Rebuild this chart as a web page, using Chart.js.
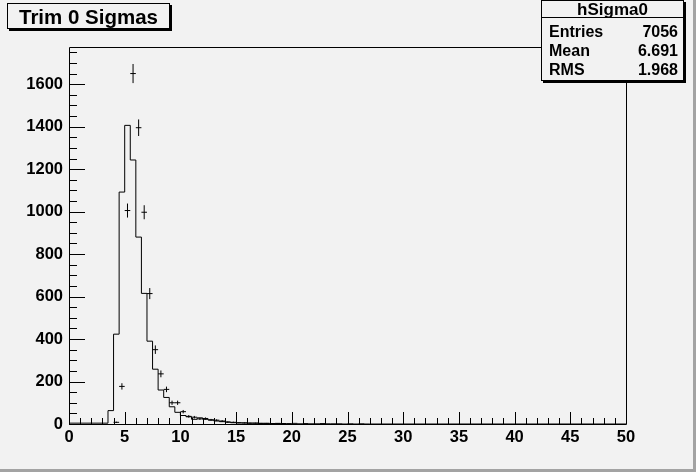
<!DOCTYPE html>
<html>
<head>
<meta charset="utf-8">
<script src="https://cdn.jsdelivr.net/npm/chart.js@4/dist/chart.umd.min.js"></script>
<style>
  html,body{margin:0;padding:0;background:#f2f2f2;}
  #wrap{position:relative;width:696px;height:472px;background:#f2f2f2;overflow:hidden;}
  #c{position:absolute;left:0;top:0;}
  .edgeR{position:absolute;right:0;top:0;width:3px;height:472px;background:#a3a3a3;}
  .edgeB{position:absolute;left:0;bottom:0;width:696px;height:3px;background:#a3a3a3;}
  .title{position:absolute;left:7px;top:3px;width:161px;height:24px;border:1px solid #000;background:#f2f2f2;
    box-shadow:2px 2px 0 #000;font:bold 20.5px "Liberation Sans",Arial,sans-serif;line-height:25px;text-align:center;color:#000;}
  .stats{position:absolute;left:541px;top:0px;width:141px;height:79px;border:1px solid #000;background:#f2f2f2;
    box-shadow:2px 2px 0 #000;font:bold 16px "Liberation Sans",Arial,sans-serif;color:#000;}
  .stats .hd{height:16px;line-height:18px;text-align:center;border-bottom:1px solid #000;font-size:17px;}
  .stats .rows{padding-top:4px;}
  .stats .row{height:19px;line-height:19px;padding:0 5px 0 7px;display:flex;justify-content:space-between;}
</style>
</head>
<body>
<div id="wrap">
  <canvas id="c" width="696" height="472"></canvas>
  <div class="title">Trim 0 Sigmas</div>
  <div class="stats">
    <div class="hd">hSigma0</div>
    <div class="rows">
      <div class="row"><span>Entries</span><span>7056</span></div>
      <div class="row"><span>Mean</span><span>6.691</span></div>
      <div class="row"><span>RMS</span><span>1.968</span></div>
    </div>
  </div>
  <div class="edgeR"></div>
  <div class="edgeB"></div>
</div>
<script>
// ---- data ----
const binWidth = 0.5;
const lineStart = 3.5; // low edge of first listed bin (step histogram)
const lineCounts = [4, 63, 423, 1092, 1406, 1243, 880, 615, 390, 258, 160, 125, 81, 55, 40, 34, 22, 29, 22, 18, 14, 11, 9,
  6, 5, 5, 4, 4, 3, 3, 2, 3, 2, 2, 3, 1, 2, 1, 1, 2, 1, 1, 1, 0, 1, 0, 1];
const pointCenters = [4.25, 4.75, 5.25, 5.75, 6.25, 6.75, 7.25, 7.75, 8.25, 8.75, 9.25, 9.75, 10.25, 10.75, 11.25, 11.75,
  12.25, 12.75, 13.25, 13.75, 14.25, 14.75, 15.25, 15.75, 16.25, 16.75, 17.25, 17.75, 18.25, 18.75, 19.25];
const pointValues = [8, 177, 1005, 1650, 1395, 997, 614, 350, 236, 163, 100, 100, 58, 36, 32, 24,
  26, 20, 18, 14, 9, 8, 6, 5, 4, 4, 3, 3, 2, 2, 2];
const pointErrors = [3, 15, 33, 45, 39, 33, 26, 20, 16, 13, 10, 10, 8, 6, 6, 5,
  5, 4, 4, 4, 3, 3, 2, 2, 2, 2, 2, 2, 1, 1, 1];
const xTicks = [0, 5, 10, 15, 20, 25, 30, 35, 40, 45, 50];
const yTicks = [0, 200, 400, 600, 800, 1000, 1200, 1400, 1600];
const xMin = 0, xMax = 50, yMin = 0, yMax = 1775;

// ---- build datasets ----
const stepData = [{x: xMin, y: 0}];
lineCounts.forEach((v, i) => stepData.push({x: lineStart + i * binWidth, y: v}));
stepData.push({x: lineStart + lineCounts.length * binWidth, y: 0});
stepData.push({x: xMax, y: 0});

const vBars = [], hBars = [];
pointCenters.forEach((c, i) => {
  const v = pointValues[i], e = pointErrors[i];
  vBars.push({x: c, y: Math.max(0, v - e)}, {x: c, y: v + e}, {x: c, y: null});
  hBars.push({x: c - binWidth / 2, y: v}, {x: c + binWidth / 2, y: v}, {x: c, y: null});
});

const FONT = '"Liberation Sans", Arial, sans-serif';

const rootAxes = {
  id: 'rootAxes',
  afterDatasetsDraw(chart) {
    const {ctx, chartArea: a, scales: {x, y}} = chart;
    ctx.save();
    ctx.strokeStyle = '#000';
    ctx.lineWidth = 1;
    ctx.beginPath();
    ctx.rect(Math.round(a.left) + 0.5, Math.round(a.top) + 0.5, Math.round(a.right - a.left), Math.round(a.bottom - a.top));
    for (let v = xMin; v <= xMax; v += 1) {
      const px = Math.round(x.getPixelForValue(v)) + 0.5;
      const len = (v % 5 === 0) ? 12 : 6;
      ctx.moveTo(px, a.bottom);
      ctx.lineTo(px, a.bottom - len);
    }
    for (let v = 0; v <= yMax; v += 50) {
      const py = Math.round(y.getPixelForValue(v)) + 0.5;
      const len = (v % 200 === 0) ? 16 : 8;
      ctx.moveTo(a.left, py);
      ctx.lineTo(a.left + len, py);
    }
    ctx.stroke();
    ctx.restore();
  }
};

new Chart(document.getElementById('c'), {
  type: 'line',
  data: {
    datasets: [
      {data: stepData, stepped: 'after', borderColor: '#000', borderWidth: 1, pointRadius: 0, fill: false, tension: 0},
      {data: vBars, borderColor: '#000', borderWidth: 1, pointRadius: 0, spanGaps: false, fill: false},
      {data: hBars, borderColor: '#000', borderWidth: 1, pointRadius: 0, spanGaps: false, fill: false}
    ]
  },
  options: {
    responsive: false,
    animation: false,
    devicePixelRatio: 1,
    layout: {padding: {left: 0, top: 47, right: 70, bottom: 0}},
    plugins: {legend: {display: false}, tooltip: {enabled: false}, title: {display: false}},
    scales: {
      x: {
        type: 'linear', min: xMin, max: xMax,
        afterBuildTicks: s => { s.ticks = xTicks.map(v => ({value: v})); },
        afterFit: s => { s.height = 48; },
        grid: {display: false, drawTicks: false},
        border: {display: false},
        ticks: {color: '#000', font: {family: FONT, size: 16.5, weight: 'bold'}, padding: 4, maxRotation: 0, autoSkip: false,
          callback: v => String(v)}
      },
      y: {
        type: 'linear', min: yMin, max: yMax,
        afterBuildTicks: s => { s.ticks = yTicks.map(v => ({value: v})); },
        afterFit: s => { s.width = 69; },
        grid: {display: false, drawTicks: false},
        border: {display: false},
        ticks: {color: '#000', font: {family: FONT, size: 16.5, weight: 'bold'}, padding: 6,
          callback: v => String(v)}
      }
    }
  },
  plugins: [rootAxes]
});
</script>
</body>
</html>
